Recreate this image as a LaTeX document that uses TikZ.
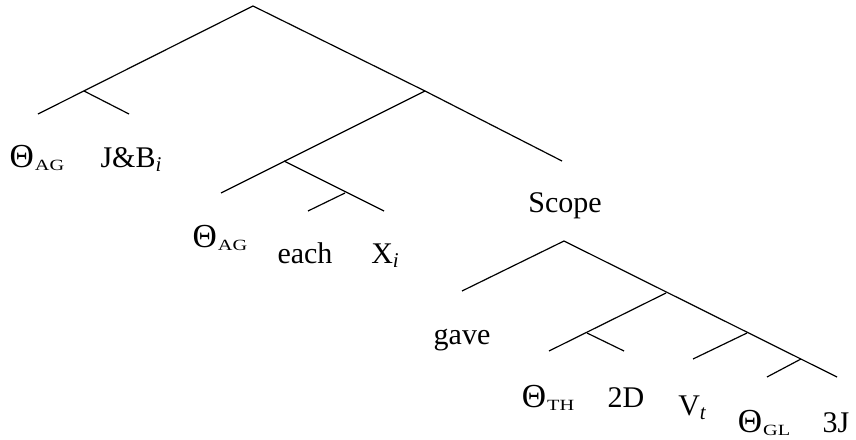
\documentclass[tikz,border=0pt]{standalone}
\usepackage{fontspec}
\setmainfont{Liberation Serif}
\newcommand{\thsub}[1]{\scalebox{1.12}{Θ}\kern0.5pt\raisebox{-1.5pt}{\scalebox{1.3}[1]{\fontsize{7.8}{8}\selectfont #1}}}
\newcommand{\itsub}[1]{\raisebox{-2pt}{\fontsize{10.5}{12}\selectfont\itshape #1}}
\tikzset{branch/.style={line width=0.6pt},
  leaf/.style={anchor=base,inner sep=0pt}}

\begin{document}
\begin{tikzpicture}[x=0.5pt,y=-0.5pt,font=\fontsize{15}{18}\selectfont]
  \useasboundingbox (0,0) rectangle (856,439);

  % upper tree
  \coordinate (root) at (253,6);
  \coordinate (agA) at (38,114);
  \coordinate (subj) at (84,91);
  \coordinate (jb) at (129,114);
  \coordinate (vp) at (425,91);
  \coordinate (sc) at (562,161);
  \coordinate (agB) at (221,193);
  \coordinate (dp) at (284,161);
  \coordinate (xi) at (384,211);
  \coordinate (qp) at (345,193);
  \coordinate (each) at (308,211);

  % lower tree
  \coordinate (vroot) at (564,241);
  \coordinate (gave) at (462,291);
  \coordinate (vt3) at (837,377);
  \coordinate (vbar) at (666,293);
  \coordinate (thA) at (549,351);
  \coordinate (obj) at (587,333);
  \coordinate (twoD) at (624,351);
  \coordinate (vtp) at (747,333);
  \coordinate (vt) at (693,359);
  \coordinate (gl) at (801,359);
  \coordinate (thB) at (767,377);

  \foreach \a/\b in {root/agA,subj/jb,root/vp,vp/sc,vp/agB,dp/xi,qp/each,
      vroot/gave,vroot/vt3,vbar/thA,obj/twoD,vtp/vt,gl/thB}{
    \draw[branch] (\a) -- (\b);}

  \node[leaf] (l-agA) at (37,167) {\thsub{AG}};
  \node[leaf] (l-jb) at (131,167) {J\&B\itsub{i}};
  \node[leaf] (l-agB) at (220,247) {\thsub{AG}};
  \node[leaf] (l-each) at (305,263) {each};
  \node[leaf] (l-xi) at (385,263) {X\itsub{i}};
  \node[leaf] (l-scope) at (565,212) {Scope};
  \node[leaf] (l-gave) at (462,344) {gave};
  \node[leaf] (l-th) at (548,407) {\thsub{TH}};
  \node[leaf] (l-2d) at (626,407) {2D};
  \node[leaf] (l-vt) at (692,415) {V\itsub{t}};
  \node[leaf] (l-gl) at (764,432) {\thsub{GL}};
  \node[leaf] (l-3j) at (836,432) {3J};
\end{tikzpicture}
\end{document}
